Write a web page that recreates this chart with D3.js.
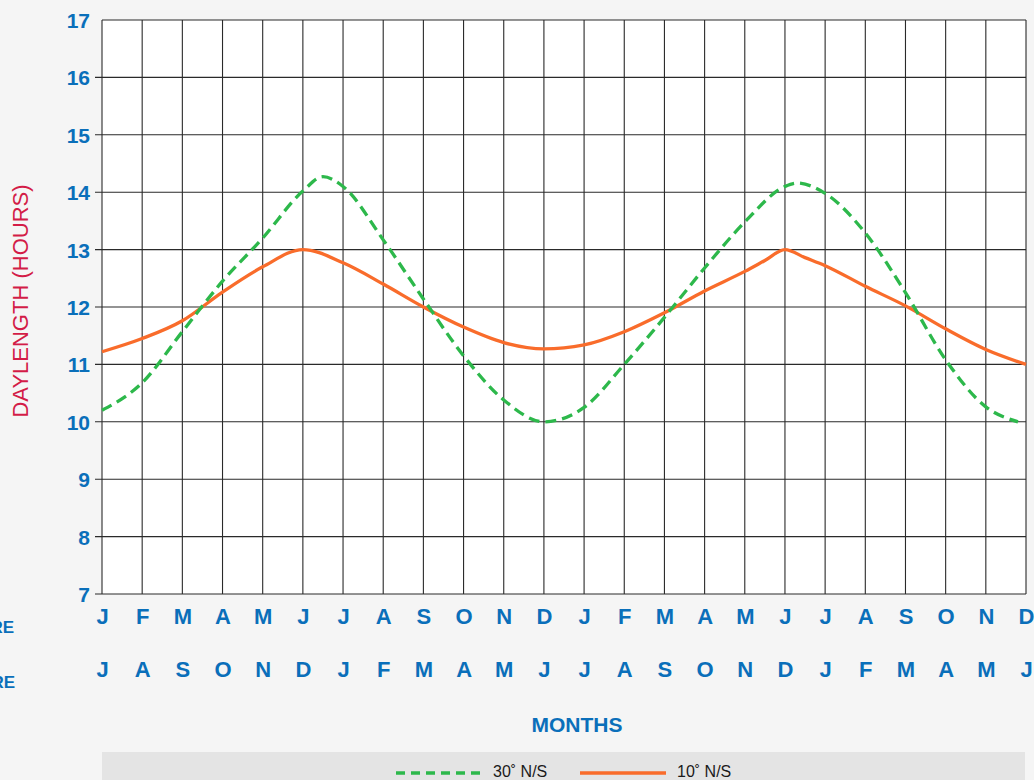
<!DOCTYPE html>
<html>
<head>
<meta charset="utf-8">
<script src="https://cdn.jsdelivr.net/npm/d3@7"></script>
<style>
  html, body { margin: 0; padding: 0; background: #f5f5f5; }
  svg { display: block; }
  text { font-family: "Liberation Sans", Arial, Helvetica, sans-serif; }
</style>
</head>
<body>
<svg id="chart" width="1034" height="780"></svg>
<script>
// ---- data ----
const monthsTop = ["J","F","M","A","M","J","J","A","S","O","N","D","J","F","M","A","M","J","J","A","S","O","N","D"];
const monthsBottom = ["J","A","S","O","N","D","J","F","M","A","M","J","J","A","S","O","N","D","J","F","M","A","M","J"];
const yTicks = [7,8,9,10,11,12,13,14,15,16,17];

// month index positions and daylength values (hours)
const lat30X = [0,1,2,3,4,5,5.5,6,7,8,9,10,11,12,13,14,15,16,17,17.3,18,19,20,21,22,22.8];
const lat30Y = [10.2,10.68,11.57,12.45,13.2,14.02,14.27,14.1,13.17,12.14,11.15,10.38,10.0,10.25,11.0,11.82,12.68,13.48,14.1,14.16,13.98,13.29,12.25,11.08,10.26,10.0];
const lat10X = [0,1,2,3,4,5,6,7,8,9,10,11,12,13,14,15,16,16.5,17,17.5,18,19,20,21,22,23];
const lat10Y = [11.22,11.45,11.76,12.26,12.7,13.0,12.77,12.4,12.0,11.65,11.38,11.27,11.34,11.57,11.9,12.28,12.62,12.81,13.0,12.86,12.72,12.36,12.02,11.62,11.26,11.0];

const legendLabels = ["30˚ N/S", "10˚ N/S"];

// ---- layout ----
const svg = d3.select("#chart");
const pLeft = 102, pRight = 1026, pTop = 20, pBottom = 594;
const blue = "#0a6fba";
const green = "#2db84b";
const orange = "#f96c2b";

const x = d3.scaleLinear().domain([0, 23]).range([pLeft, pRight]);
const y = d3.scaleLinear().domain([7, 17]).range([pBottom, pTop]);

// plot background
svg.append("rect").attr("x", pLeft).attr("y", pTop)
  .attr("width", pRight - pLeft).attr("height", pBottom - pTop).attr("fill", "#fff");

// vertical grid lines
svg.append("g").selectAll("line").data(d3.range(0, 24)).join("line")
  .attr("x1", d => x(d)).attr("x2", d => x(d))
  .attr("y1", pTop).attr("y2", pBottom)
  .attr("stroke", "#2a2a2a").attr("stroke-width", 1.1);

// horizontal grid lines + ticks
svg.append("g").selectAll("line").data(yTicks).join("line")
  .attr("x1", d => d === 17 ? pLeft : pLeft - 7).attr("x2", pRight)
  .attr("y1", d => y(d)).attr("y2", d => y(d))
  .attr("stroke", "#2a2a2a").attr("stroke-width", 1.1);

// y axis using d3 axis for labels
const yAxis = d3.axisLeft(y).tickValues(yTicks).tickSize(0).tickPadding(12);
const yg = svg.append("g").attr("transform", `translate(${pLeft},0)`).call(yAxis);
yg.select(".domain").remove();
yg.selectAll("text").attr("fill", blue).style("font-size", "21px").style("font-weight", "bold")
  .attr("dy", "0.36em");

// x axis labels (two rows)
const xAxisTop = d3.axisBottom(x).tickValues(d3.range(0, 24)).tickFormat(i => monthsTop[i]).tickSize(0).tickPadding(14);
const xg1 = svg.append("g").attr("transform", `translate(0,${pBottom})`).call(xAxisTop);
xg1.select(".domain").remove();
xg1.selectAll("text").attr("fill", blue).style("font-size", "22px").style("font-weight", "bold");

const xAxisBot = d3.axisBottom(x).tickValues(d3.range(0, 24)).tickFormat(i => monthsBottom[i]).tickSize(0).tickPadding(67);
const xg2 = svg.append("g").attr("transform", `translate(0,${pBottom})`).call(xAxisBot);
xg2.select(".domain").remove();
xg2.selectAll("text").attr("fill", blue).style("font-size", "22px").style("font-weight", "bold");

// hemisphere labels (cut off at left, as in the source)
svg.append("text").attr("x", 14).attr("y", 633).attr("text-anchor", "end")
  .attr("fill", blue).style("font-size", "17px").style("font-weight", "bold").text("NORTHERN HEMISPHERE");
svg.append("text").attr("x", 15).attr("y", 688).attr("text-anchor", "end")
  .attr("fill", blue).style("font-size", "17px").style("font-weight", "bold").text("SOUTHERN HEMISPHERE");

// axis titles
svg.append("text").attr("transform", `translate(28,${(185+417)/2}) rotate(-90)`)
  .attr("text-anchor", "middle").attr("fill", "#d31c47").style("font-size", "22px")
  .text("DAYLENGTH (HOURS)");
svg.append("text").attr("x", 577).attr("y", 732).attr("text-anchor", "middle")
  .attr("fill", blue).style("font-size", "21px").style("font-weight", "bold").text("MONTHS");

// lines
const line = d3.line().x(d => x(d[0])).y(d => y(d[1])).curve(d3.curveMonotoneX);
const d10 = lat10X.map((v, i) => [v, lat10Y[i]]);
const d30 = lat30X.map((v, i) => [v, lat30Y[i]]);

svg.append("path").attr("d", line(d10)).attr("fill", "none")
  .attr("stroke", orange).attr("stroke-width", 3.3);
svg.append("path").attr("d", line(d30)).attr("fill", "none")
  .attr("stroke", green).attr("stroke-width", 3.3).attr("stroke-dasharray", "11,6");

// legend
svg.append("rect").attr("x", pLeft).attr("y", 752).attr("width", 1025 - pLeft).attr("height", 28).attr("fill", "#e4e4e4");
svg.append("line").attr("x1", 396).attr("x2", 482).attr("y1", 773).attr("y2", 773)
  .attr("stroke", green).attr("stroke-width", 3.4).attr("stroke-dasharray", "9,6");
svg.append("text").attr("x", 493).attr("y", 777).attr("fill", "#1a1a1a").style("font-size", "16px").text(legendLabels[0]);
svg.append("line").attr("x1", 580).attr("x2", 666).attr("y1", 773).attr("y2", 773)
  .attr("stroke", orange).attr("stroke-width", 3.4);
svg.append("text").attr("x", 677).attr("y", 777).attr("fill", "#1a1a1a").style("font-size", "16px").text(legendLabels[1]);
</script>
</body>
</html>
